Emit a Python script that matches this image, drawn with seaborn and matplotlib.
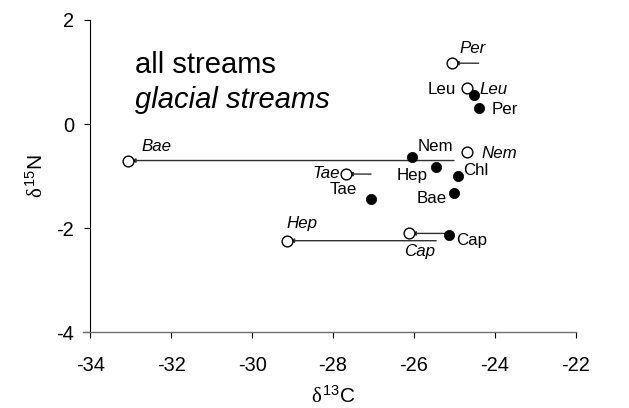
import numpy as np
import pandas as pd
import matplotlib
matplotlib.use("Agg")
import matplotlib.pyplot as plt
import seaborn as sns

# Stable isotope signatures of the taxa
taxa = ["Per", "Leu", "Nem", "Hep", "Chl", "Bae", "Tae", "Cap"]
# all streams (filled symbols)
all_c = [-24.40, -24.52, -26.04, -25.45, -24.92, -25.01, -27.06, -25.14]
all_n = [0.30, 0.56, -0.63, -0.82, -1.00, -1.33, -1.44, -2.13]
# glacial streams (open symbols); Chl not recorded
glac_c = [-25.07, -24.69, -24.68, -29.14, np.nan, -33.06, -27.69, -26.13]
glac_n = [1.17, 0.69, -0.54, -2.24, np.nan, -0.70, -0.96, -2.10]
# taxa whose carbon shift is drawn as an arrow
shift_taxa = ["Per", "Bae", "Tae", "Hep", "Cap"]

x_ticks = [-34, -32, -30, -28, -26, -24, -22]
y_ticks = [-4, -2, 0, 2]

df = pd.DataFrame({"taxon": taxa, "all_c": all_c, "all_n": all_n,
                   "glac_c": glac_c, "glac_n": glac_n}).set_index("taxon")

sns.set_style("ticks")
plt.rcParams["font.family"] = ["Liberation Sans", "DejaVu Sans"]
plt.rcParams["mathtext.fontset"] = "custom"
plt.rcParams["mathtext.rm"] = "Liberation Sans"
plt.rcParams["mathtext.it"] = "Liberation Serif"
plt.rcParams["axes.unicode_minus"] = False
for key in ["text.color", "axes.labelcolor", "xtick.color", "ytick.color"]:
    plt.rcParams[key] = "black"

fig = plt.figure(figsize=(6.29, 4.08), dpi=100)
ax = fig.add_axes([0.1436, 0.1855, 0.7717, 0.7655])

# horizontal shift arrows (glacial value at the arrow head)
for t in shift_taxa:
    ax.annotate("", xy=(df.loc[t, "glac_c"], df.loc[t, "glac_n"]),
                xytext=(df.loc[t, "all_c"], df.loc[t, "glac_n"]),
                arrowprops=dict(arrowstyle="-|>", color="#303030", lw=1.0,
                                shrinkA=0, shrinkB=2, mutation_scale=6),
                zorder=1)

sns.scatterplot(data=df, x="glac_c", y="glac_n", s=60, marker="o",
                facecolor="white", edgecolor="black", linewidth=1.0,
                ax=ax, zorder=3)
sns.scatterplot(data=df, x="all_c", y="all_n", s=55, marker="o",
                color="black", edgecolor="black", linewidth=0.5,
                ax=ax, zorder=4)

# point labels: offsets in points (dx, dy), alignment
all_lab = {"Per": (9.6, -0.5, "left"), "Leu": (-12.7, 3.6, "right"),
           "Nem": (3.6, 7.7, "left"), "Hep": (-6.0, -6.0, "right"),
           "Chl": (4.0, 4.1, "left"), "Bae": (-5.3, -3.6, "right"),
           "Tae": (-10.3, 7.0, "right"), "Cap": (5.3, -4.1, "left")}
glac_lab = {"Per": (5.8, 10.8, "left"), "Leu": (9.4, -1.2, "left"),
            "Nem": (10.4, -1.2, "left"), "Hep": (0.0, 12.5, "left"),
            "Bae": (9.1, 10.1, "left"), "Tae": (-4.1, 0.7, "right"),
            "Cap": (-3.4, -13.2, "left")}
lab_fs = 12.2
for t, (dx, dy, ha) in all_lab.items():
    ax.annotate(t, (df.loc[t, "all_c"], df.loc[t, "all_n"]),
                xytext=(dx, dy), textcoords="offset points",
                ha=ha, va="center", fontsize=lab_fs, zorder=5)
for t, (dx, dy, ha) in glac_lab.items():
    ax.annotate(t, (df.loc[t, "glac_c"], df.loc[t, "glac_n"]),
                xytext=(dx, dy), textcoords="offset points",
                ha=ha, va="center", fontsize=lab_fs, style="italic", zorder=5)

ax.text(0.0927, 0.829, "all streams", transform=ax.transAxes,
        fontsize=21, ha="left", va="baseline")
ax.text(0.0927, 0.717, "glacial streams", transform=ax.transAxes,
        fontsize=21, ha="left", va="baseline", style="italic")

ax.set_xlim(-34, -22)
ax.set_ylim(-4, 2)
ax.set_xticks(x_ticks)
ax.set_yticks(y_ticks)
ax.tick_params(axis="both", labelsize=14.4, length=4.5, width=0.8,
               direction="out")
ax.tick_params(axis="x", pad=12.5)
ax.tick_params(axis="y", pad=7)
ax.set_xlabel(r"$\delta^{13}$C", fontsize=15, labelpad=8)
ax.set_ylabel(r"$\delta^{15}$N", fontsize=15, labelpad=7)

sns.despine(ax=ax)
ax.spines["left"].set_linewidth(0.8)
ax.spines["left"].set_color("black")
ax.spines["bottom"].set_linewidth(1.0)
ax.spines["bottom"].set_color("#707070")
ax.spines["bottom"].set_bounds(-34.17, -22)

fig.savefig("out.png", dpi=100)
